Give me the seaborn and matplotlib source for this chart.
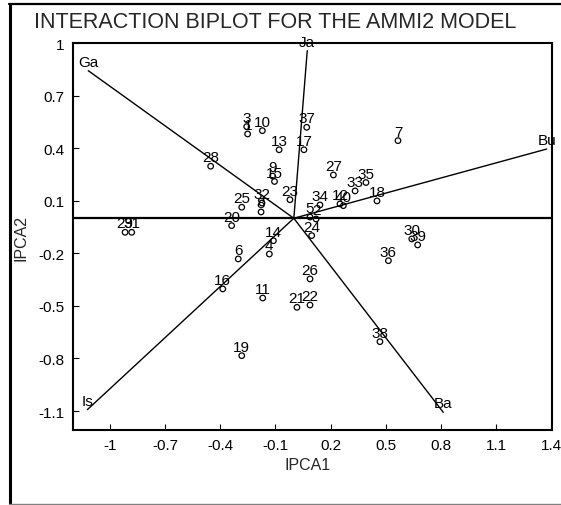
import matplotlib
matplotlib.use("Agg")
import matplotlib.pyplot as plt
import seaborn as sns
import pandas as pd
from matplotlib.lines import Line2D

# ---- data -------------------------------------------------------------
genotypes = [str(i) for i in range(1, 41)]
ipca1 = [-0.251, 0.121, -0.256, -0.133, 0.088, -0.302, 0.566, -0.178, -0.115, -0.171,
         -0.169, 0.251, -0.080, -0.111, -0.105, -0.386, 0.055, 0.452, -0.283, -0.338,
         0.017, 0.088, -0.021, 0.097, -0.283, 0.088, 0.215, -0.452, -0.917, 0.641,
         -0.881, -0.173, 0.333, 0.142, 0.392, 0.514, 0.070, 0.468, 0.673, 0.269]
ipca2 = [0.481, -0.004, 0.523, -0.204, 0.007, -0.232, 0.443, 0.036, 0.241, 0.500,
         -0.455, 0.082, 0.391, -0.128, 0.210, -0.403, 0.391, 0.099, -0.784, -0.042,
         -0.508, -0.495, 0.106, -0.099, 0.063, -0.346, 0.247, 0.297, -0.080, -0.118,
         -0.080, 0.087, 0.156, 0.076, 0.204, -0.242, 0.519, -0.704, -0.152, 0.072]

environments = ["Ga", "Ja", "Bu", "Ba", "Is"]
env_ipca1 = [-1.117, 0.073, 1.374, 0.812, -1.122]
env_ipca2 = [0.842, 0.956, 0.395, -1.107, -1.092]

xticks = [-1, -0.7, -0.4, -0.1, 0.2, 0.5, 0.8, 1.1, 1.4]
xticklabels = ["-1", "-0.7", "-0.4", "-0.1", "0.2", "0.5", "0.8", "1.1", "1.4"]
yticks = [1, 0.7, 0.4, 0.1, -0.2, -0.5, -0.8, -1.1]
yticklabels = ["1", "0.7", "0.4", "0.1", "-0.2", "-0.5", "-0.8", "-1.1"]

title = "INTERACTION BIPLOT FOR THE AMMI2 MODEL"
xlabel = "IPCA1"
ylabel = "IPCA2"

# ---- style ------------------------------------------------------------
sns.set_style("ticks")
plt.rcParams["font.family"] = ["Liberation Sans", "DejaVu Sans"]

W, H = 561, 506
fig = plt.figure(figsize=(W / 100, H / 100), dpi=100)
ax = fig.add_axes([73 / W, 1 - 431 / H, (552 - 73) / W, (431 - 44) / H])

df = pd.DataFrame({"g": genotypes, "x": ipca1, "y": ipca2})
env = pd.DataFrame({"e": environments, "x": env_ipca1, "y": env_ipca2})

# zero line
ax.axhline(0, color="black", lw=1.6, zorder=1)

# environment vectors
for _, r in env.iterrows():
    ax.plot([0, r["x"]], [0, r["y"]], color="black", lw=1.0, zorder=2)
    ax.annotate(r["e"], (r["x"], r["y"]), xytext=(0, 3.5), textcoords="offset points",
                ha="center", va="baseline", fontsize=11, color="black")

# genotype points
sns.scatterplot(data=df, x="x", y="y", ax=ax, marker="o", s=16,
                facecolor="none", edgecolor="black", linewidth=0.9, zorder=3)
for _, r in df.iterrows():
    ax.annotate(r["g"], (r["x"], r["y"]), xytext=(0, 3.5), textcoords="offset points",
                ha="center", va="baseline", fontsize=11, color="black")

ax.set_xlim(-1.2, 1.403)
ax.set_ylim(-1.208, 1.0)
ax.set_xticks(xticks)
ax.set_xticklabels(xticklabels)
ax.set_yticks(yticks)
ax.set_yticklabels(yticklabels)
ax.tick_params(direction="in", length=4, width=0.8, labelsize=11, pad=6, colors="black")
ax.set_xlabel("")
ax.set_ylabel("")
for s in ax.spines.values():
    s.set_visible(True)
    s.set_linewidth(1.5)
    s.set_color("black")

fig.text(275 / W, 1 - 28 / H, title, ha="center", va="baseline", fontsize=15.5)
fig.text(308 / W, 1 - 466 / H, xlabel, ha="center", va="center", fontsize=11.5)
fig.text(21 / W, 1 - 238 / H, ylabel, ha="center", va="center", rotation=90, fontsize=11.5)

# outer frame
fig.add_artist(Line2D([9.5 / W, 9.5 / W], [1 - 505 / H, 1 - 5 / H], color="black", lw=2.2,
                      transform=fig.transFigure))
fig.add_artist(Line2D([9 / W, 1.0], [1 - 5 / H, 1 - 5 / H], color="black", lw=1.6,
                      transform=fig.transFigure))
fig.add_artist(Line2D([9 / W, 1.0], [1 - 505 / H, 1 - 505 / H], color="#808080", lw=1.0,
                      transform=fig.transFigure))

fig.savefig("out.png", dpi=100)
